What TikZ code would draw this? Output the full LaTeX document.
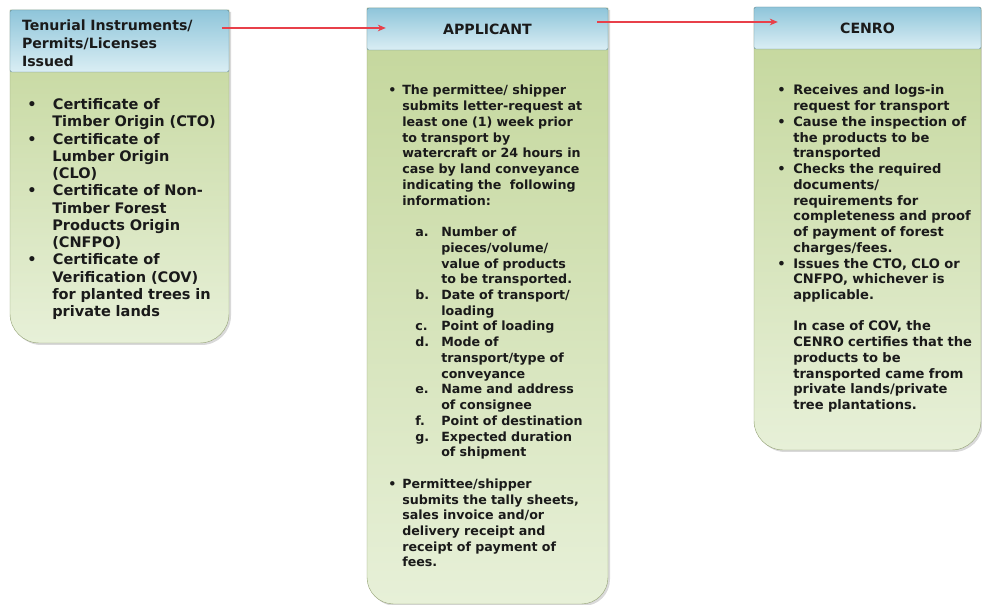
\documentclass[tikz,border=0pt]{standalone}
\usepackage{fontspec}
\setmainfont{DejaVu Sans}
\usepackage{enumitem}
\usetikzlibrary{calc,shadows,arrows.meta}

\definecolor{hdtop}{HTML}{8FC5DA}
\definecolor{hdbot}{HTML}{DAEEF4}
\definecolor{bdtop}{HTML}{C3D69A}
\definecolor{bdbot}{HTML}{E7F0D8}
\definecolor{flowred}{HTML}{E8404A}
\definecolor{inktext}{HTML}{1A1A1A}

\setlist[itemize]{label=\textbullet, labelindent=0pt, labelwidth=6.5pt, align=left,
  topsep=0pt, partopsep=0pt, itemsep=0pt, parsep=0pt}
\setlist[enumerate]{label=\alph*., labelindent=9.75pt, labelwidth=14pt, labelsep=5.5pt,
  leftmargin=29.25pt, align=left, topsep=11.8pt, partopsep=0pt, itemsep=0pt, parsep=0pt}

\tikzset{
  boxfill/.style={top color=bdtop, bottom color=bdbot, draw=bdtop!75!black, line width=0.3pt,
    drop shadow={shadow xshift=1.5pt, shadow yshift=-1.5pt, opacity=0.3}},
  headbox/.style={rectangle, rounded corners=1.5pt, top color=hdtop, bottom color=hdbot,
    draw=hdtop!70!black, line width=0.3pt, inner sep=0pt, text=inktext,
    font=\bfseries\fontsize{10.6}{13.5}\selectfont},
  bodytext/.style={anchor=north west, inner sep=0pt, align=left, text=inktext,
    font=\bfseries\fontsize{9.5}{11.8}\selectfont},
  flow/.style={-{Stealth[length=6pt,width=5pt]}, draw=flowred, line width=0.8pt}
}

\begin{document}
\begin{tikzpicture}[x=0.75pt,y=0.75pt]
  \useasboundingbox (0,0) rectangle (982,-605);

  %% Box outlines, headers are laid over their tops
  \path[boxfill] (10,-10) [rounded corners=22pt] -- (10,-343) -- (229,-343) [sharp corners] -- (229,-10) -- cycle;
  \path[boxfill] (367,-8) [rounded corners=20pt] -- (367,-604) -- (608,-604) [sharp corners] -- (608,-8) -- cycle;
  \path[boxfill] (754,-8) [rounded corners=22pt] -- (754,-450) -- (981,-450) [sharp corners] -- (981,-8) -- cycle;

  %% Headers
  \node[headbox, minimum width=164.25pt, minimum height=46.5pt, text width=146.25pt, align=left] (TIhead) at (119.5,-41)
    {\rule{0pt}{11pt}Tenurial Instruments/\\Permits/Licenses\\Issued};
  \node[headbox, minimum width=180.75pt, minimum height=31.5pt] (APhead) at (487.5,-29) {APPLICANT};
  \node[headbox, minimum width=170.25pt, minimum height=31.5pt] (CEhead) at (867.5,-28) {CENRO};

  %% Contents
  \node[bodytext, text width=150pt, font=\bfseries\fontsize{10.9}{12.95}\selectfont] (TIbody) at (27,-92) {%
    \begin{itemize}[leftmargin=18.75pt, labelsep=12.25pt]
      \item Certificate of\newline Timber Origin (CTO)
      \item Certificate of\newline Lumber Origin\newline (CLO)
      \item Certificate of Non-\newline Timber Forest\newline Products Origin\newline (CNFPO)
      \item Certificate of\newline Verification (COV)\newline for planted trees in\newline private lands
    \end{itemize}};

  \node[bodytext, text width=165pt] (APbody) at (388,-79) {%
    \begin{itemize}[leftmargin=10.5pt, labelsep=4pt]
      \item The permittee/ shipper\newline submits letter-request at\newline least one (1) week prior\newline to transport by\newline
        watercraft or 24 hours in\newline case by land conveyance\newline indicating the\ \ following\newline information:
        \begin{enumerate}
          \item Number of\newline pieces/volume/\newline value of products\newline to be transported.
          \item Date of transport/\newline loading
          \item Point of loading
          \item Mode of\newline transport/type of\newline conveyance
          \item Name and address\newline of consignee
          \item Point of destination
          \item Expected duration\newline of shipment
        \end{enumerate}
      \item Permittee/shipper\newline submits the tally sheets,\newline sales invoice and/or\newline delivery receipt and\newline receipt of payment of\newline fees.
    \end{itemize}};

  \node[bodytext, text width=165pt, font=\bfseries\fontsize{9.8}{11.8}\selectfont] (CEbody) at (777,-79) {%
    \begin{itemize}[leftmargin=12pt, labelsep=5.5pt]
      \item Receives and logs-in\newline request for transport
      \item Cause the inspection of\newline the products to be\newline transported
      \item Checks the required\newline documents/\newline requirements for\newline completeness and proof\newline of payment of forest\newline charges/fees.
      \item Issues the CTO, CLO or\newline CNFPO, whichever is\newline applicable.\par\vspace{11.8pt}
        In case of COV, the\newline CENRO certifies that the\newline products to be\newline transported came from\newline private lands/private\newline tree plantations.
    \end{itemize}};

  %% Flow between the boxes
  \coordinate (TIout) at ($(TIhead.east)+(-7,13)$);
  \coordinate (APin)  at ($(APhead.west)+(19,1)$);
  \coordinate (APout) at ($(APhead.east)+(-11,7)$);
  \coordinate (CEin)  at ($(CEhead.west)+(24,6)$);
  \draw[flow] (TIout) -- (APin);
  \draw[flow] (APout) -- (CEin);
\end{tikzpicture}
\end{document}
